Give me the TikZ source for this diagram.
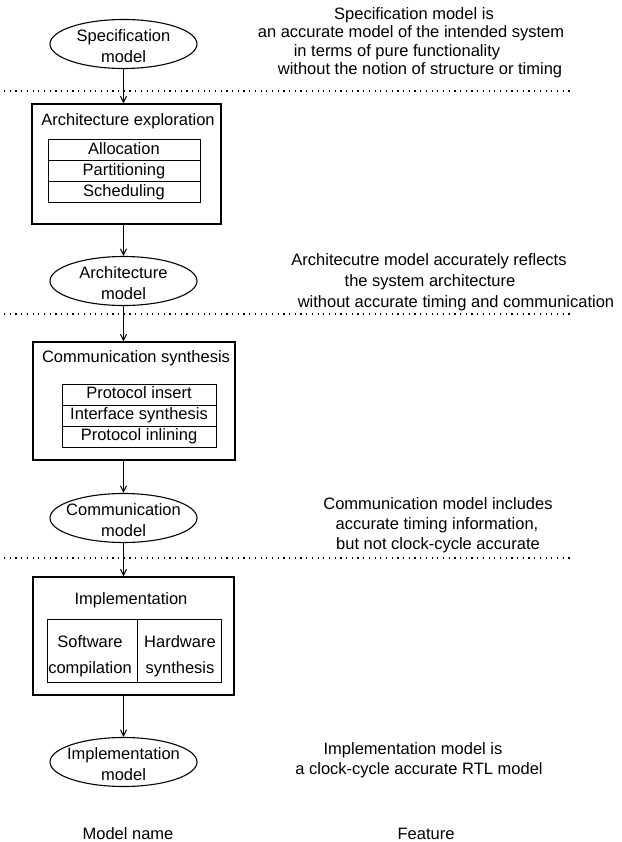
\documentclass[tikz,border=0pt]{standalone}
\usepackage{fontspec}
\setmainfont{Liberation Sans}
\usetikzlibrary{shapes.geometric,arrows.meta}
\begin{document}
\begin{tikzpicture}[x=1pt,y=-1pt,
  every node/.style={font=\fontsize{16.5}{21}\selectfont, inner sep=0pt},
  model/.style={draw, ellipse, line width=1.1pt, minimum width=147pt, minimum height=49pt},
  stage/.style={draw, rectangle, line width=1.4pt},
  cell/.style={draw, rectangle, line width=1pt},
  txt/.style={text height=12pt, text depth=3.5pt, align=center},
  sep/.style={line width=1.2pt, dash pattern=on 1.2pt off 4.5pt},
  flow/.style={line width=1pt, -{Straight Barb[length=6pt,width=6pt]}}
]
\useasboundingbox (0,0) rectangle (621,842);

% ---- model ellipses ----
\node[model] (spec) at (123.5,44) {};
\node[align=center] (spec-t) at (123.5,46) {Specification\\model};
\node[model] (arch) at (123.5,281) {};
\node[align=center] (arch-t) at (123.5,283) {Architecture\\model};
\node[model] (comm) at (123.5,518) {};
\node[align=center] (comm-t) at (123.5,520) {Communication\\model};
\node[model] (impl) at (123.5,762) {};
\node[align=center] (impl-t) at (123.5,764) {Implementation\\model};

% ---- architecture exploration ----
\node[stage, minimum width=189pt, minimum height=120pt] (archbox) at (126.5,164) {};
\node[txt] (archbox-t) at (128,121) {Architecture exploration};
\node[cell, txt, minimum width=152pt, minimum height=21pt] (alloc) at (124,150.5) {Allocation};
\node[cell, txt, minimum width=152pt, minimum height=21pt] (part) at (124,171.5) {Partitioning};
\node[cell, txt, minimum width=152pt, minimum height=21pt] (sched) at (124,192.5) {Scheduling};

% ---- communication synthesis ----
\node[stage, minimum width=202pt, minimum height=118pt] (commbox) at (134,401) {};
\node[txt] (commbox-t) at (136,358) {Communication synthesis};
\node[cell, txt, minimum width=154pt, minimum height=21pt] (pins) at (139,394.5) {Protocol insert};
\node[cell, txt, minimum width=154pt, minimum height=21pt] (ifs) at (139,415.5) {Interface synthesis};
\node[cell, txt, minimum width=154pt, minimum height=21pt] (pinl) at (139,436.5) {Protocol inlining};

% ---- implementation ----
\node[stage, minimum width=201pt, minimum height=118pt] (implbox) at (133.5,636) {};
\node[txt] (implbox-t) at (131,600) {Implementation};
\node[cell, minimum width=90pt, minimum height=63pt] (sw) at (92,650.5) {};
\node[cell, minimum width=84pt, minimum height=63pt] (hw) at (179,650.5) {};
\node[align=center, font=\fontsize{16.5}{26}\selectfont] (sw-t) at (90,656) {Software\\compilation};
\node[align=center, font=\fontsize{16.5}{26}\selectfont] (hw-t) at (180,656) {Hardware\\synthesis};

% ---- design flow ----
\draw[flow] (spec.south) -- (spec.south |- archbox.north);
\draw[flow] (arch.north |- archbox.south) -- (arch.north);
\draw[flow] (arch.south) -- (arch.south |- commbox.north);
\draw[flow] (comm.north |- commbox.south) -- (comm.north);
\draw[flow] (comm.south) -- (comm.south |- implbox.north);
\draw[flow] (impl.north |- implbox.south) -- (impl.north);

% ---- level separators ----
\coordinate (s1a) at (4,91);   \coordinate (s1b) at (570,91);
\coordinate (s2a) at (4,314);  \coordinate (s2b) at (570,314);
\coordinate (s3a) at (4,558);  \coordinate (s3b) at (570,558);
\draw[sep] (s1a) -- (s1b);
\draw[sep] (s2a) -- (s2b);
\draw[sep] (s3a) -- (s3b);

% ---- model features ----
\node[txt] (f1a) at (414,15)   {Specification model is};
\node[txt] (f1b) at (411,33.5) {an accurate model of the intended system};
\node[txt] (f1c) at (397,52)   {in terms of pure functionality};
\node[txt] (f1d) at (420,70.5) {without the notion of structure or timing};

\node[txt] (f2a) at (429,261) {Architecutre model accurately reflects};
\node[txt] (f2b) at (430,282) {the system architecture};
\node[txt] (f2c) at (456,303) {without accurate timing and communication};

\node[txt] (f3a) at (438,505) {Communication model includes};
\node[txt] (f3b) at (437,525) {accurate timing information,};
\node[txt] (f3c) at (438,545) {but not clock-cycle accurate};

\node[txt] (f4a) at (413,750) {Implementation model is};
\node[txt] (f4b) at (419,770) {a clock-cycle accurate RTL model};

% ---- column headings ----
\node[txt] (h1) at (128,835) {Model name};
\node[txt] (h2) at (426,835) {Feature};
\end{tikzpicture}
\end{document}
